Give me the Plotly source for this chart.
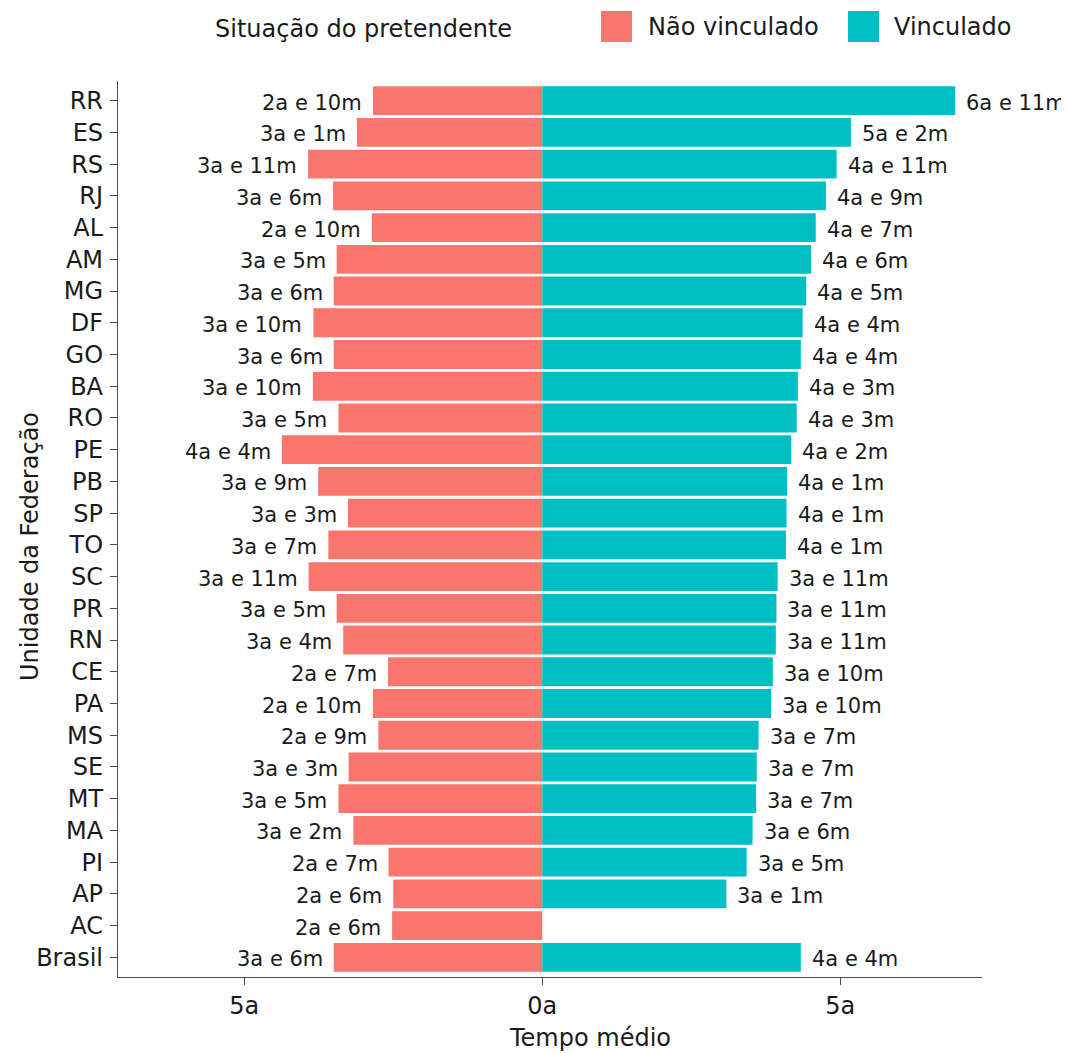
import plotly.graph_objects as go

# Categories, top to bottom as shown
ufs = ["RR", "ES", "RS", "RJ", "AL", "AM", "MG", "DF", "GO", "BA", "RO", "PE", "PB", "SP",
       "TO", "SC", "PR", "RN", "CE", "PA", "MS", "SE", "MT", "MA", "PI", "AP", "AC", "Brasil"]

# Tempo médio (anos) - Não vinculado
nao_vinc = [2.84, 3.11, 3.93, 3.51, 2.86, 3.45, 3.50, 3.84, 3.50, 3.85, 3.42, 4.37, 3.76, 3.26,
            3.59, 3.92, 3.45, 3.34, 2.59, 2.84, 2.75, 3.25, 3.42, 3.17, 2.58, 2.50, 2.52, 3.50]
nao_vinc_lbl = ["2a e 10m", "3a e 1m", "3a e 11m", "3a e 6m", "2a e 10m", "3a e 5m", "3a e 6m",
                "3a e 10m", "3a e 6m", "3a e 10m", "3a e 5m", "4a e 4m", "3a e 9m", "3a e 3m",
                "3a e 7m", "3a e 11m", "3a e 5m", "3a e 4m", "2a e 7m", "2a e 10m", "2a e 9m",
                "3a e 3m", "3a e 5m", "3a e 2m", "2a e 7m", "2a e 6m", "2a e 6m", "3a e 6m"]

# Tempo médio (anos) - Vinculado
vinc = [6.93, 5.18, 4.94, 4.76, 4.59, 4.51, 4.43, 4.37, 4.34, 4.29, 4.27, 4.18, 4.11, 4.10,
        4.09, 3.95, 3.93, 3.92, 3.87, 3.84, 3.63, 3.60, 3.59, 3.53, 3.43, 3.09, None, 4.34]
vinc_lbl = ["6a e 11m", "5a e 2m", "4a e 11m", "4a e 9m", "4a e 7m", "4a e 6m", "4a e 5m",
            "4a e 4m", "4a e 4m", "4a e 3m", "4a e 3m", "4a e 2m", "4a e 1m", "4a e 1m",
            "4a e 1m", "3a e 11m", "3a e 11m", "3a e 11m", "3a e 10m", "3a e 10m", "3a e 7m",
            "3a e 7m", "3a e 7m", "3a e 6m", "3a e 5m", "3a e 1m", None, "4a e 4m"]

series_names = ["Não vinculado", "Vinculado"]
legend_title = "Situação do pretendente"

x_tickvals = [-5, 0, 5]
x_ticktext = ["5a", "0a", "5a"]

FONT = "DejaVu Sans"
FS = 24          # axis / legend text
FS_LBL = 21      # bar value labels
TXT = "#1a1a1a"
AXC = "#4d4d4d"
COL_NV = "#F8766D"
COL_V = "#00BFC4"

fig = go.Figure()
fig.add_trace(go.Bar(
    y=ufs, x=[-v for v in nao_vinc], orientation="h", name=series_names[0],
    marker=dict(color=COL_NV, line=dict(width=0)), hoverinfo="skip", showlegend=False,
))
fig.add_trace(go.Bar(
    y=ufs, x=vinc, orientation="h", name=series_names[1],
    marker=dict(color=COL_V, line=dict(width=0)), hoverinfo="skip", showlegend=False,
))

annotations = []
for uf, v, t in zip(ufs, nao_vinc, nao_vinc_lbl):
    if v is None:
        continue
    annotations.append(dict(x=-v, y=uf, xref="x", yref="y", text=t, showarrow=False,
                            xanchor="right", yanchor="middle", xshift=-9, yshift=-2,
                            font=dict(family=FONT, size=FS_LBL, color=TXT)))
for uf, v, t in zip(ufs, vinc, vinc_lbl):
    if v is None:
        continue
    annotations.append(dict(x=v, y=uf, xref="x", yref="y", text=t, showarrow=False,
                            xanchor="left", yanchor="middle", xshift=9, yshift=-2,
                            font=dict(family=FONT, size=FS_LBL, color=TXT)))

# axis titles
annotations.append(dict(x=0.5466, y=-0.0681, xref="paper", yref="paper", text="Tempo médio",
                        showarrow=False, xanchor="center", yanchor="middle",
                        font=dict(family=FONT, size=FS, color=TXT)))
annotations.append(dict(x=-0.1019, y=0.481, xref="paper", yref="paper",
                        text="Unidade da Federação", textangle=-90, showarrow=False,
                        xanchor="center", yanchor="middle",
                        font=dict(family=FONT, size=FS, color=TXT)))

# legend (drawn in paper coordinates above the panel)
annotations.append(dict(x=0.1100, y=1.058, xref="paper", yref="paper", text=legend_title,
                        showarrow=False, xanchor="left", yanchor="middle",
                        font=dict(family=FONT, size=FS, color=TXT)))
legend_items = [(series_names[0], COL_NV, 0.5590, 0.5949, 0.6111),
                (series_names[1], COL_V, 0.8449, 0.8808, 0.8958)]
shapes = []
for name, col, x0, x1, xt in legend_items:
    shapes.append(dict(type="rect", xref="paper", yref="paper", x0=x0, x1=x1,
                       y0=1.0435, y1=1.0781, fillcolor=col, line=dict(width=0)))
    annotations.append(dict(x=xt, y=1.0603, xref="paper", yref="paper", text=name,
                            showarrow=False, xanchor="left", yanchor="middle",
                            font=dict(family=FONT, size=FS, color=TXT)))

# page body has an 8px margin: figure is shrunk by 8px so the panel lands where it should
fig.update_layout(
    width=1061, height=1045,
    margin=dict(l=110, r=87, t=73, b=76, autoexpand=False),
    paper_bgcolor="white", plot_bgcolor="white",
    barmode="relative", bargap=0.09,
    font=dict(family=FONT, size=FS, color=TXT),
    showlegend=False,
    annotations=annotations,
    shapes=shapes,
    xaxis=dict(
        range=[-7.12, 7.38], tickvals=x_tickvals, ticktext=x_ticktext,
        showgrid=False, zeroline=False, showline=True, linecolor=AXC, linewidth=1.3,
        ticks="outside", ticklen=7, tickwidth=1.3, tickcolor=AXC,
        tickfont=dict(family=FONT, size=FS, color=TXT), fixedrange=True,
    ),
    yaxis=dict(
        type="category", categoryorder="array", categoryarray=list(reversed(ufs)),
        range=[-0.62, 27.62],
        showgrid=False, zeroline=False, showline=True, linecolor=AXC, linewidth=1.3,
        ticks="outside", ticklen=7, tickwidth=1.3, tickcolor=AXC,
        tickfont=dict(family=FONT, size=FS, color=TXT), ticklabelstandoff=2, fixedrange=True,
    ),
)

fig.write_html("out.html")
